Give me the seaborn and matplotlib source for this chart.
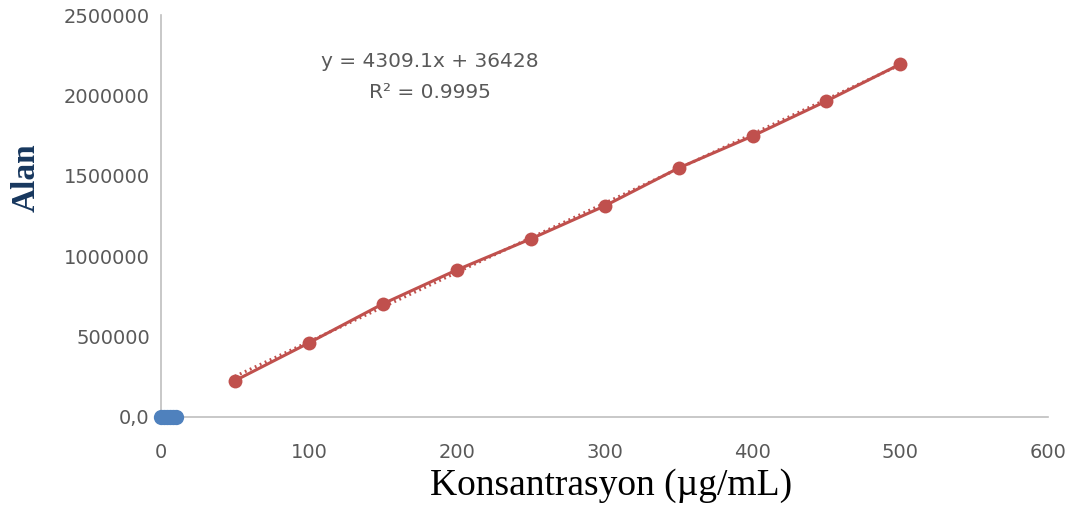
import numpy as np
import pandas as pd
import matplotlib
matplotlib.use("Agg")
import matplotlib.pyplot as plt
import seaborn as sns

# Calibration standards
konsantrasyon = [50, 100, 150, 200, 250, 300, 350, 400, 450, 500]
alan = [225000, 460000, 703000, 914000, 1107000, 1312000, 1548000, 1747000, 1965000, 2195000]

# Blank series clustered at the origin
blank_x = [0, 2, 4, 6, 8, 10]
blank_y = [0, 0, 0, 0, 0, 0]

# Linear fit reported on the chart
slope = 4309.1
intercept = 36428
r2 = 0.9995

x_ticks = [0, 100, 200, 300, 400, 500, 600]
y_ticks = [0, 500000, 1000000, 1500000, 2000000, 2500000]
y_tick_labels = ["0,0", "500000", "1000000", "1500000", "2000000", "2500000"]

sns.set_style("white")
plt.rcParams["font.family"] = ["DejaVu Sans"]

red = "#C0504D"
blue = "#4F81BD"
grey_text = "#595959"
spine = "#BFBFBF"

fig = plt.figure(figsize=(10.73, 5.09), dpi=100)
ax = fig.add_axes([0.150, 0.181, 0.827, 0.7895])

df = pd.DataFrame({"x": konsantrasyon, "y": alan})
blank = pd.DataFrame({"x": blank_x, "y": blank_y})

# Trendline (dotted) beneath the measured series
fit_x = np.array([konsantrasyon[0], konsantrasyon[-1]])
fit = pd.DataFrame({"x": fit_x, "y": slope * fit_x + intercept})
sns.lineplot(data=fit, x="x", y="y", ax=ax, color=red, lw=2.2,
             linestyle=(0, (0.6, 1.2)), zorder=2)

sns.lineplot(data=df, x="x", y="y", ax=ax, color=red, lw=2.2, marker="o",
             markersize=10, markeredgewidth=0, zorder=3)
sns.lineplot(data=blank, x="x", y="y", ax=ax, color=blue, lw=0, marker="o",
             markersize=11, markeredgewidth=0, zorder=4, clip_on=False)

ax.set_xlim(0, 600)
ax.set_ylim(0, 2500000)
ax.set_xticks(x_ticks)
ax.set_xticklabels([str(t) for t in x_ticks])
ax.set_yticks(y_ticks)
ax.set_yticklabels(y_tick_labels)
ax.tick_params(axis="both", length=0, labelsize=14, colors=grey_text)
ax.tick_params(axis="x", pad=19)
ax.tick_params(axis="y", pad=8)

for s in ["top", "right"]:
    ax.spines[s].set_visible(False)
for s in ["left", "bottom"]:
    ax.spines[s].set_color(spine)
    ax.spines[s].set_linewidth(1.2)

ax.set_xlabel("Konsantrasyon (µg/mL)", family="Liberation Serif", fontsize=27,
              color="black")
ax.xaxis.set_label_coords(0.507, -0.128)
ax.set_ylabel("Alan", family="Liberation Serif", fontsize=24, fontweight="bold",
              color="#17375E")
ax.yaxis.set_label_coords(-0.134, 0.595)

ax.text(182, 2208000, f"y = {slope}x + {intercept}", ha="center", va="center",
        fontsize=14.5, color=grey_text)
ax.text(182, 2020000, f"R² = {r2}", ha="center", va="center",
        fontsize=14.5, color=grey_text)

fig.savefig("out.png", dpi=100)
